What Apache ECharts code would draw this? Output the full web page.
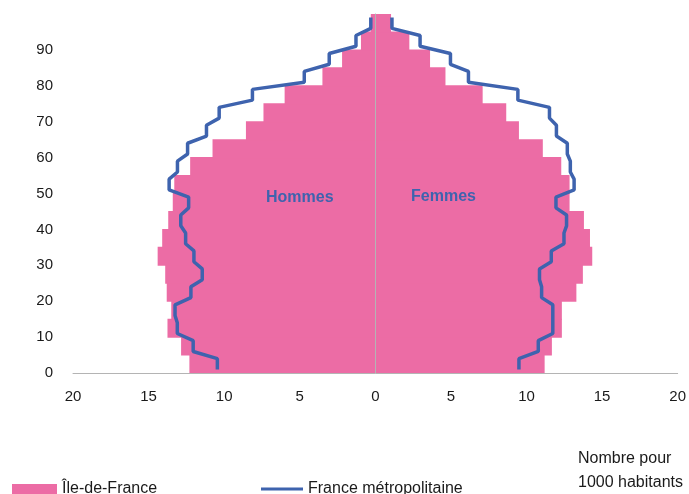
<!DOCTYPE html>
<html>
<head>
<meta charset="utf-8">
<script src="https://cdn.jsdelivr.net/npm/echarts@6/dist/echarts.min.js"></script>
<style>
  html, body { margin: 0; padding: 0; background: #fff; }
  #pyramide { width: 689px; height: 494px; }
</style>
</head>
<body>
<div id="pyramide"></div>
<script>
// Tranches d'âge quinquennales (0-4 ... 95-99)
var tranches = ['0', '5', '10', '15', '20', '25', '30', '35', '40', '45',
    '50', '55', '60', '65', '70', '75', '80', '85', '90', '95'];
var debutTranche = [0, 5, 10, 15, 20, 25, 30, 35, 40, 45,
    50, 55, 60, 65, 70, 75, 80, 85, 90, 95];

// Île-de-France, nombre pour 1000 habitants
var idfHommes = [12.3, 12.85, 13.75, 13.5, 13.8, 13.9, 14.4, 14.1, 13.7, 13.4,
    13.3, 12.25, 10.77, 8.56, 7.4, 6.0, 3.5, 2.2, 0.95, 0.3];
var idfFemmes = [11.2, 11.68, 12.34, 12.34, 13.3, 13.73, 14.35, 14.2, 13.8, 12.85,
    12.85, 12.3, 11.08, 9.5, 8.66, 7.1, 4.64, 3.62, 2.25, 1.04];

// France métropolitaine
var franceHommes = [10.45, 12.05, 13.1, 13.25, 12.2, 11.45, 12.0, 12.55, 12.87, 12.35,
    13.64, 13.09, 12.42, 11.17, 10.33, 8.13, 4.7, 3.05, 1.28, 0.3];
var franceFemmes = [9.5, 10.78, 11.74, 11.74, 11.0, 10.86, 11.64, 12.48, 12.65, 11.95,
    13.15, 12.9, 12.7, 11.98, 11.52, 9.43, 6.16, 4.97, 2.96, 1.1];

var ROSE = '#ec6ca5';
var BLEU = '#3e63ae';
var POLICE = 'Liberation Sans, Arial, sans-serif';

var chart = echarts.init(document.getElementById('pyramide'));

// ligne en escalier : un segment vertical au milieu de chaque tranche
function escalier(valeurs, signe) {
    var pts = [];
    valeurs.forEach(function (v, i) {
        pts.push([signe * v, debutTranche[i] + 1]);
        pts.push([signe * v, debutTranche[i] + 4]);
    });
    return pts;
}

var option = {
    animation: false,
    grid: { left: 73, right: 11, top: 14, bottom: 121 },
    xAxis: {
        type: 'value',
        min: -20,
        max: 20,
        interval: 5,
        axisLine: { onZero: false, lineStyle: { color: '#b4b4b4', width: 1 } },
        axisTick: { show: false },
        splitLine: { show: false },
        axisLabel: {
            margin: 16,
            color: '#1a1a1a',
            fontSize: 15,
            fontFamily: POLICE,
            formatter: function (v) { return Math.abs(v); }
        }
    },
    yAxis: [
        {
            // axe des tranches : sert seulement au trait gris central
            type: 'category',
            data: tranches,
            z: 10,
            axisLine: { onZero: true, lineStyle: { color: '#b4b4b4', width: 1 } },
            axisTick: { show: false },
            axisLabel: { show: false },
            splitLine: { show: false },
            splitArea: { show: false }
        },
        {
            type: 'value',
            min: 0,
            max: 100,
            interval: 10,
            position: 'left',
            axisLine: { show: false, onZero: false },
            axisTick: { show: false },
            splitLine: { show: false },
            axisLabel: {
                margin: 20,
                showMaxLabel: false,
                color: '#1a1a1a',
                fontSize: 15,
                fontFamily: POLICE
            }
        }
    ],
    legend: [
        {
            data: ['Île-de-France'],
            left: 12,
            top: 481,
            padding: 0,
            itemWidth: 45,
            itemHeight: 10,
            icon: 'rect',
            textStyle: { color: '#1a1a1a', fontSize: 16, fontFamily: POLICE }
        },
        {
            data: ['France métropolitaine'],
            left: 261,
            top: 481,
            padding: 0,
            itemWidth: 42,
            itemHeight: 10,
            icon: 'path://M0,4 L42,4 L42,7 L0,7 Z',
            textStyle: { color: '#1a1a1a', fontSize: 16, fontFamily: POLICE }
        }
    ],
    graphic: [
        {
            type: 'text', left: 266, top: 190, z: 20,
            style: { text: 'Hommes', fill: BLEU, font: 'bold 16px ' + POLICE }
        },
        {
            type: 'text', left: 411, top: 189, z: 20,
            style: { text: 'Femmes', fill: BLEU, font: 'bold 16px ' + POLICE }
        },
        {
            type: 'text', left: 578, top: 447,
            style: {
                text: 'Nombre pour\n1000 habitants',
                fill: '#1a1a1a',
                align: 'center',
                lineHeight: 24,
                font: '16px ' + POLICE
            }
        }
    ],
    series: [
        {
            name: 'Île-de-France',
            type: 'bar',
            xAxisIndex: 0,
            yAxisIndex: 0,
            barWidth: 19,
            barGap: '-100%',
            itemStyle: { color: ROSE, opacity: 1 },
            emphasis: { disabled: true },
            data: idfHommes.map(function (v) { return -v; })
        },
        {
            name: 'Île-de-France',
            type: 'bar',
            xAxisIndex: 0,
            yAxisIndex: 0,
            barWidth: 19,
            barGap: '-100%',
            itemStyle: { color: ROSE, opacity: 1 },
            emphasis: { disabled: true },
            data: idfFemmes
        },
        {
            name: 'France métropolitaine',
            type: 'line',
            xAxisIndex: 0,
            yAxisIndex: 1,
            symbol: 'none',
            z: 5,
            lineStyle: { color: BLEU, width: 3.5 },
            itemStyle: { color: BLEU },
            data: escalier(franceHommes, -1)
        },
        {
            name: 'France métropolitaine',
            type: 'line',
            xAxisIndex: 0,
            yAxisIndex: 1,
            symbol: 'none',
            z: 5,
            lineStyle: { color: BLEU, width: 3.5 },
            itemStyle: { color: BLEU },
            data: escalier(franceFemmes, 1)
        }
    ]
};

chart.setOption(option);
</script>
</body>
</html>
